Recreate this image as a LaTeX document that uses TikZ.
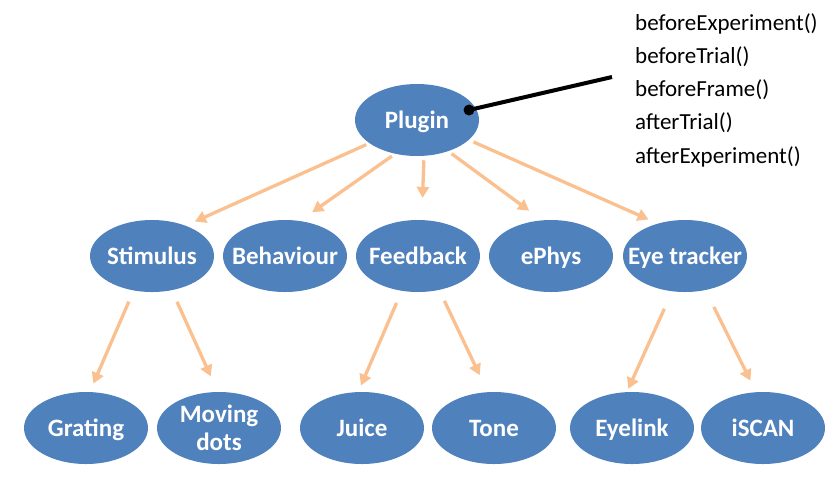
\documentclass[tikz,border=0pt]{standalone}
\usepackage{fontspec}
\setmainfont{Carlito}
\usetikzlibrary{shapes.geometric, arrows.meta}
\definecolor{nodeblue}{HTML}{4F81BD}
\definecolor{linkpeach}{HTML}{FAC090}

\begin{document}
\begin{tikzpicture}[x=1pt,y=-1pt]

% Define styles
\tikzstyle{module}=[ellipse, fill=nodeblue, text=white, font=\fontsize{25}{28}\selectfont\bfseries, minimum width=124pt, minimum height=72pt, inner xsep=-20pt, inner ysep=0pt, text depth=0pt, align=center]
\tikzstyle{link}=[draw=linkpeach, fill=linkpeach, line width=3.3pt, -{Triangle[length=11pt,width=12pt]}]
\tikzstyle{callout}=[black, line width=4pt]
\tikzstyle{methods}=[font=\fontsize{23}{33.3}\selectfont, align=left, inner sep=0pt]

% Parameters
\def\rowtop{120}
\def\rowmid{256}
\def\rowbot{428}

\useasboundingbox (0,0) rectangle (834,491);

% Modules
\node[module] (plug) at (417,\rowtop) {Plugin};
\foreach \n/\x/\t in {stim/152/Stimulus, behav/285/Behaviour, feedb/418/Feedback, ephys/551/ePhys, eyetr/685/Eye tracker} {
  \node[module] (\n) at (\x,\rowmid) {\t};
}
\foreach \n/\x/\t in {grat/86/Grating, dots/219/{Moving\\dots}, juice/362/Juice, tone/494/Tone, eyel/632/Eyelink, iscan/763/iSCAN} {
  \node[module] (\n) at (\x,\rowbot) {\t};
}

% Links: from/angle/to/angle/gap at start/gap at end
\foreach \a/\aa/\b/\bb/\s/\e in {
  plug/206.6/stim/42.1/3.4/10, plug/237/behav/67.8/3.9/15, plug/281.3/feedb/84.1/4.3/22,
  plug/315/ephys/104.3/4/16, plug/339.8/eyetr/130.4/5/10,
  stim/242.9/grat/84.9/12/9, stim/300/dots/92.2/12.6/17,
  feedb/245.9/juice/96.6/13/7, feedb/302.5/tone/100.5/12/18.6,
  eyetr/250.3/eyel/98.7/19/3.4, eyetr/301/iscan/101.8/18.7/12.7
} {
  \draw[link, shorten <=\s pt, shorten >=\e pt] (\a.\aa) -- (\b.\bb);
}

% Hook methods
\node[methods, anchor=north west] (hooks) at (635,13) {beforeExperiment()\\beforeTrial()\\beforeFrame()\\afterTrial()\\afterExperiment()};
\coordinate (pin) at (469,110);
\coordinate (hookend) at (612,77);
\draw[callout] (pin) -- (hookend);
\fill (pin) circle (5.5pt);

\end{tikzpicture}
\end{document}
